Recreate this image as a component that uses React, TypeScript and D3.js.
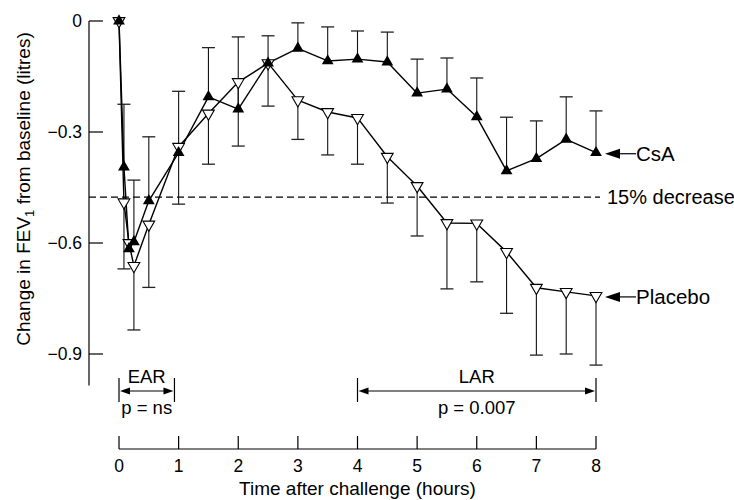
import React, { useEffect, useRef } from "react";
import * as d3 from "d3";

// hours after allergen challenge
const times = [0, 0.083, 0.167, 0.25, 0.5, 1, 1.5, 2, 2.5, 3, 3.5, 4, 4.5, 5, 5.5, 6, 6.5, 7, 7.5, 8];

// change in FEV1 (litres), mean and end of the error bar
const csaMean = [0, -0.395, -0.616, -0.597, -0.486, -0.356, -0.205, -0.238, -0.114, -0.074, -0.108, -0.103, -0.111, -0.195, -0.184, -0.259, -0.405, -0.372, -0.32, -0.356];
const csaUpper = [null, -0.225, null, -0.43, -0.313, -0.19, -0.072, -0.043, -0.04, -0.005, -0.016, -0.027, -0.03, -0.103, -0.1, -0.154, -0.26, -0.27, -0.205, -0.243];
const placeboMean = [0, -0.49, -0.6, -0.662, -0.55, -0.34, -0.25, -0.165, -0.114, -0.214, -0.246, -0.262, -0.367, -0.446, -0.546, -0.547, -0.624, -0.721, -0.732, -0.743];
const placeboLower = [null, -0.67, null, -0.835, -0.72, -0.495, -0.387, -0.338, -0.23, -0.32, -0.362, -0.387, -0.492, -0.581, -0.724, -0.705, -0.79, -0.903, -0.9, -0.93];

const xTicks = [0, 1, 2, 3, 4, 5, 6, 7, 8];
const yTicks = [0, -0.3, -0.6, -0.9];
const yTickLabels = ["0", "\u22120.3", "\u22120.6", "\u22120.9"];

const decreaseLevel = -0.476; // 15% fall in FEV1
const earRange = [0, 0.93];
const larRange = [4, 8];

const App = () => {
  const svgRef = useRef<SVGSVGElement>(null);

  useEffect(() => {
    const svg = d3.select(svgRef.current);
    svg.selectAll("*").remove();

    const font = "'Liberation Sans', Arial, Helvetica, sans-serif";
    const x = d3.scaleLinear().domain([0, 8]).range([119, 596]);
    const y = d3.scaleLinear().domain([0, -0.9]).range([21, 354]);
    const yAxisX = 89;
    const xAxisY = 449;

    // Y axis (ticks point inwards)
    svg.append("line")
      .attr("x1", yAxisX).attr("x2", yAxisX)
      .attr("y1", y(0)).attr("y2", y(-0.985))
      .attr("stroke", "black").attr("stroke-width", 1.2);
    yTicks.forEach((t, i) => {
      svg.append("line")
        .attr("x1", yAxisX).attr("x2", yAxisX + 14)
        .attr("y1", y(t)).attr("y2", y(t))
        .attr("stroke", "black").attr("stroke-width", 1.2);
      svg.append("text")
        .attr("x", 82).attr("y", y(t) + 6)
        .attr("text-anchor", "end")
        .attr("font-family", font).attr("font-size", 17.5)
        .text(yTickLabels[i]);
    });

    // Y axis title with subscript
    const yTitle = svg.append("text")
      .attr("transform", "translate(30,189) rotate(-90)")
      .attr("text-anchor", "middle")
      .attr("font-family", font).attr("font-size", 19);
    yTitle.append("tspan").text("Change in FEV");
    yTitle.append("tspan").attr("dy", 4).attr("font-size", 13).text("1");
    yTitle.append("tspan").attr("dy", -4).text(" from baseline (litres)");

    // X axis
    svg.append("line")
      .attr("x1", x(0)).attr("x2", x(8))
      .attr("y1", xAxisY).attr("y2", xAxisY)
      .attr("stroke", "black").attr("stroke-width", 1.2);
    xTicks.forEach((t) => {
      svg.append("line")
        .attr("x1", x(t)).attr("x2", x(t))
        .attr("y1", xAxisY - 13).attr("y2", xAxisY)
        .attr("stroke", "black").attr("stroke-width", 1.2);
      svg.append("text")
        .attr("x", x(t)).attr("y", 472)
        .attr("text-anchor", "middle")
        .attr("font-family", font).attr("font-size", 17.5)
        .text(t);
    });
    svg.append("text")
      .attr("x", (x(0) + x(8)) / 2).attr("y", 495)
      .attr("text-anchor", "middle")
      .attr("font-family", font).attr("font-size", 19)
      .text("Time after challenge (hours)");

    // 15% decrease reference line
    svg.append("line")
      .attr("x1", yAxisX).attr("x2", 600)
      .attr("y1", y(decreaseLevel)).attr("y2", y(decreaseLevel))
      .attr("stroke", "black").attr("stroke-width", 1.2)
      .attr("stroke-dasharray", "7,4");
    svg.append("text")
      .attr("x", 607).attr("y", y(decreaseLevel) + 7)
      .attr("font-family", font).attr("font-size", 20)
      .text("15% decrease");

    // error bars: CsA upward, placebo downward
    const bars = (means, ends) => {
      means.forEach((m, i) => {
        const e = ends[i];
        if (e === null) return;
        svg.append("line")
          .attr("x1", x(times[i])).attr("x2", x(times[i]))
          .attr("y1", y(m)).attr("y2", y(e))
          .attr("stroke", "#111").attr("stroke-width", 1.1);
        svg.append("line")
          .attr("x1", x(times[i]) - 6.5).attr("x2", x(times[i]) + 6.5)
          .attr("y1", y(e)).attr("y2", y(e))
          .attr("stroke", "#222").attr("stroke-width", 1.3);
      });
    };
    bars(placeboMean, placeboLower);
    bars(csaMean, csaUpper);

    // lines
    const line = d3.line<number>()
      .x((d, i) => x(times[i]))
      .y((d) => y(d));
    [placeboMean, csaMean].forEach((s) => {
      svg.append("path")
        .datum(s)
        .attr("d", line)
        .attr("fill", "none")
        .attr("stroke", "black")
        .attr("stroke-width", 1.4)
        .attr("stroke-linejoin", "round");
    });

    // markers
    const tri = d3.symbol().type(d3.symbolTriangle).size(60);
    placeboMean.forEach((m, i) => {
      svg.append("path")
        .attr("d", tri())
        .attr("transform", `translate(${x(times[i])},${y(m)}) rotate(180)`)
        .attr("fill", "white")
        .attr("stroke", "black")
        .attr("stroke-width", 1.1);
    });
    csaMean.forEach((m, i) => {
      svg.append("path")
        .attr("d", tri())
        .attr("transform", `translate(${x(times[i])},${y(m)})`)
        .attr("fill", "black");
    });

    // series labels with left-pointing arrows
    const seriesLabel = (text, v) => {
      const yy = y(v) + 1;
      const tip = x(8) + 9;
      svg.append("path")
        .attr("d", `M${tip},${yy}L${tip + 15},${yy - 5}L${tip + 15},${yy + 5}Z`)
        .attr("fill", "black");
      svg.append("line")
        .attr("x1", tip + 14).attr("x2", tip + 31)
        .attr("y1", yy).attr("y2", yy)
        .attr("stroke", "black").attr("stroke-width", 1.2);
      svg.append("text")
        .attr("x", tip + 31).attr("y", yy + 7)
        .attr("font-family", font).attr("font-size", 20.5)
        .text(text);
    };
    seriesLabel("CsA", csaMean[csaMean.length - 1]);
    seriesLabel("Placebo", placeboMean[placeboMean.length - 1]);

    // EAR / LAR brackets
    const bracket = (range, label, pText) => {
      const x0 = x(range[0]);
      const x1 = x(range[1]);
      const ay = 391;
      [x0, x1].forEach((xx) => {
        svg.append("line")
          .attr("x1", xx).attr("x2", xx)
          .attr("y1", 378).attr("y2", 402)
          .attr("stroke", "black").attr("stroke-width", 1.2);
      });
      svg.append("line")
        .attr("x1", x0 + 8).attr("x2", x1 - 8)
        .attr("y1", ay).attr("y2", ay)
        .attr("stroke", "black").attr("stroke-width", 1.2);
      svg.append("path")
        .attr("d", `M${x0 + 1},${ay}L${x0 + 11},${ay - 3.5}L${x0 + 11},${ay + 3.5}Z`)
        .attr("fill", "black");
      svg.append("path")
        .attr("d", `M${x1 - 1},${ay}L${x1 - 11},${ay - 3.5}L${x1 - 11},${ay + 3.5}Z`)
        .attr("fill", "black");
      svg.append("text")
        .attr("x", (x0 + x1) / 2).attr("y", 383)
        .attr("text-anchor", "middle")
        .attr("font-family", font).attr("font-size", 18.5)
        .text(label);
      svg.append("text")
        .attr("x", (x0 + x1) / 2).attr("y", 414)
        .attr("text-anchor", "middle")
        .attr("font-family", font).attr("font-size", 18.5)
        .text(pText);
    };
    bracket(earRange, "EAR", "p = ns");
    bracket(larRange, "LAR", "p = 0.007");
  }, []);

  return (
    <svg
      ref={svgRef}
      width={734}
      height={500}
      style={{ position: "absolute", left: 0, top: 0, background: "white" }}
    ></svg>
  );
};

export default App;
